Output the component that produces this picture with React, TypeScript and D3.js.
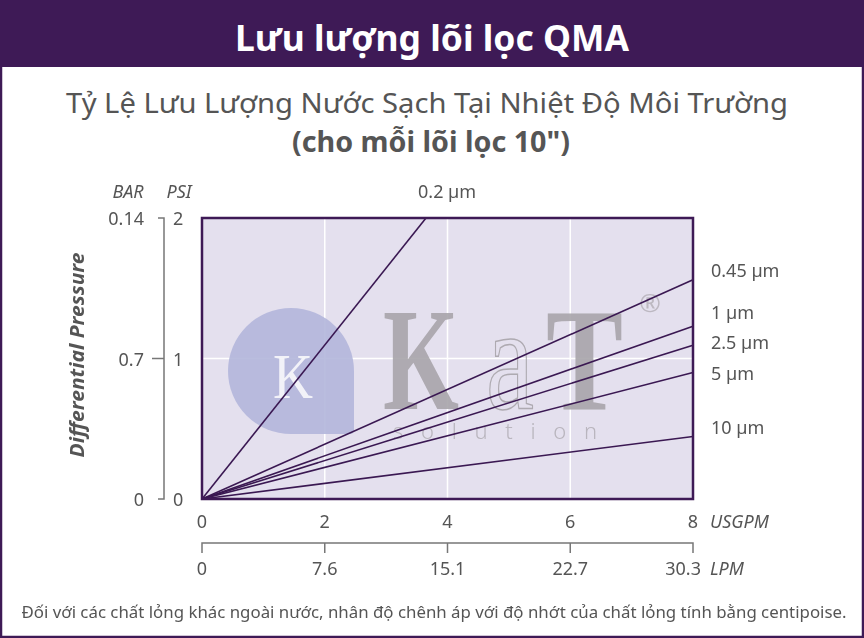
import React from "react";
import * as d3 from "d3";

// flow ticks
const usgpmTicks = [0, 2, 4, 6, 8];
const lpmTicks = ["0", "7.6", "15.1", "22.7", "30.3"];
const psiTicks = [0, 1, 2];
const barTicks = ["0", "0.7", "0.14"];

// one line per filter rating, from the origin to its end point
const ratings = ["0.2 µm", "0.45 µm", "1 µm", "2.5 µm", "5 µm", "10 µm"];
const endFlow = [3.65, 8, 8, 8, 8, 8];
const endPsi = [2, 1.56, 1.23, 1.095, 0.9, 0.445];

const W = 864;
const H = 638;
const purple = "#3e1a56";
const grey = "#555";
const font = "'Noto Sans', 'Open Sans', sans-serif";
const serif = "'Liberation Serif', 'DejaVu Serif', serif";

export default function App() {
  const x = d3.scaleLinear().domain([0, 8]).range([202, 693]);
  const y = d3.scaleLinear().domain([0, 2]).range([499, 218]);
  const line = d3
    .line<[number, number]>()
    .x((d) => x(d[0]))
    .y((d) => y(d[1]));

  // label nudges so the right-hand names don't collide
  const labelDy = [0, -3, -7, 4, 7, -2];

  const cx = 291, cy = 371, r = 63;
  const drop = `M${cx - r},${cy} A${r},${r} 0 0 1 ${cx},${cy - r} A${r},${r} 0 0 1 ${cx + r},${cy} L${cx + r},${cy + r - 4} Q${cx + r},${cy + r} ${cx + r - 4},${cy + r} L${cx},${cy + r} A${r},${r} 0 0 1 ${cx - r},${cy} Z`;

  return (
    <svg
      width={W}
      height={H}
      style={{ position: "absolute", left: 0, top: 0, background: "#fff" }}
      fontFamily={font}
    >
      <rect x={1} y={1} width={W - 2} height={H - 2} fill="#fff" stroke={purple} strokeWidth={2.5} />
      <rect x={0} y={0} width={W} height={67} fill={purple} />
      <text x={W / 2} y={51} textAnchor="middle" fill="#fff" fontSize={35} fontWeight={700} textLength={394} lengthAdjust="spacingAndGlyphs">
        Lưu lượng lõi lọc QMA
      </text>

      <text x={427} y={113} textAnchor="middle" fill={grey} fontSize={28} textLength={722} lengthAdjust="spacingAndGlyphs">
        Tỷ Lệ Lưu Lượng Nước Sạch Tại Nhiệt Độ Môi Trường
      </text>
      <text x={431} y={152} textAnchor="middle" fill={grey} fontSize={28} fontWeight={700} textLength={278} lengthAdjust="spacingAndGlyphs">
        (cho mỗi lõi lọc 10")
      </text>

      {/* plot area */}
      <rect x={x(0)} y={y(2)} width={x(8) - x(0)} height={y(0) - y(2)} fill="#e4e0ee" />
      {usgpmTicks.slice(1, -1).map((t) => (
        <line key={"gx" + t} x1={x(t)} x2={x(t)} y1={y(0)} y2={y(2)} stroke="#fff" strokeWidth={1.5} />
      ))}
      <line x1={x(0)} x2={x(8)} y1={y(1)} y2={y(1)} stroke="#fff" strokeWidth={1.5} />

      {/* watermark */}
      <g opacity={0.9}>
        <path d={drop} fill="#b3b6db" />
        <text x={293} y={398} textAnchor="middle" fill="#fff" opacity={0.85} fontFamily={serif} fontSize={64} textLength={40} lengthAdjust="spacingAndGlyphs">
          K
        </text>
        <text x={383} y={409} fill="#a8a4aa" fontFamily={serif} fontWeight={700} fontSize={146} textLength={76} lengthAdjust="spacingAndGlyphs">
          K
        </text>
        <text x={486} y={409} fill="none" stroke="#a8a4aa" strokeWidth={1.5} fontFamily={serif} fontSize={148} textLength={48} lengthAdjust="spacingAndGlyphs">
          a
        </text>
        <text x={546} y={409} fill="#a8a4aa" fontFamily={serif} fontWeight={700} fontSize={146} textLength={77} lengthAdjust="spacingAndGlyphs">
          T
        </text>
        <text x={393} y={439} fill="#b4b0b8" fontSize={22} fontWeight={300} textLength={204} lengthAdjust="spacing">
          solution
        </text>
        <text x={650} y={312} textAnchor="middle" fill="#b8b4bc" fontSize={26}>
          ®
        </text>
      </g>

      {/* flow lines */}
      {ratings.map((name, i) => (
        <path
          key={name}
          d={line([[0, 0], [endFlow[i], endPsi[i]]]) || ""}
          fill="none"
          stroke="#3a1852"
          strokeWidth={1.6}
        />
      ))}
      <rect x={x(0)} y={y(2)} width={x(8) - x(0)} height={y(0) - y(2)} fill="none" stroke={purple} strokeWidth={2.5} />

      {/* rating labels */}
      {ratings.map((name, i) =>
        endFlow[i] < 8 ? (
          <text key={"l" + name} x={x(endFlow[i]) - 8} y={198} fill={grey} fontSize={18}>
            {name}
          </text>
        ) : (
          <text key={"l" + name} x={711} y={y(endPsi[i]) + labelDy[i]} fill={grey} fontSize={18}>
            {name}
          </text>
        )
      )}

      {/* y axis: BAR + PSI */}
      <text x={128} y={198} textAnchor="middle" fill={grey} fontSize={18} fontStyle="italic">BAR</text>
      <text x={179} y={198} textAnchor="middle" fill={grey} fontSize={18} fontStyle="italic">PSI</text>
      <path
        d={`M158,${y(2)} H164 V${y(0)} H158 M152,${y(1)} H164`}
        fill="none"
        stroke="#777"
        strokeWidth={1.5}
      />
      {psiTicks.map((t, i) => (
        <g key={"py" + t}>
          <text x={144} y={y(t) + 7} textAnchor="end" fill={grey} fontSize={18}>{barTicks[i]}</text>
          <text x={173} y={y(t) + 7} fill={grey} fontSize={18}>{t}</text>
        </g>
      ))}
      <text
        transform={`translate(84,355) rotate(-90)`}
        textAnchor="middle"
        fill={grey}
        fontSize={20}
        fontWeight={700}
        fontStyle="italic"
        textLength={205}
        lengthAdjust="spacingAndGlyphs"
      >
        Differential Pressure
      </text>

      {/* x axis: USGPM + LPM */}
      {usgpmTicks.map((t) => (
        <text key={"ux" + t} x={x(t)} y={528} textAnchor="middle" fill={grey} fontSize={18}>{t}</text>
      ))}
      <text x={710} y={528} fill={grey} fontSize={18} fontStyle="italic">USGPM</text>
      <path
        d={`M${x(0)},553 V543 H${x(8)} V553 ` + usgpmTicks.slice(1, -1).map((t) => `M${x(t)},543 V553`).join(" ")}
        fill="none"
        stroke="#777"
        strokeWidth={1.5}
      />
      {usgpmTicks.map((t, i) => (
        <text key={"lx" + t} x={x(t)} y={575} textAnchor={i === 4 ? "end" : "middle"} dx={i === 4 ? 8 : 0} fill={grey} fontSize={18}>
          {lpmTicks[i]}
        </text>
      ))}
      <text x={710} y={575} fill={grey} fontSize={18} fontStyle="italic">LPM</text>

      <text x={434} y={618} textAnchor="middle" fill={grey} fontSize={16.5} textLength={825} lengthAdjust="spacingAndGlyphs">
        Đối với các chất lỏng khác ngoài nước, nhân độ chênh áp với độ nhớt của chất lỏng tính bằng centipoise.
      </text>
    </svg>
  );
}
